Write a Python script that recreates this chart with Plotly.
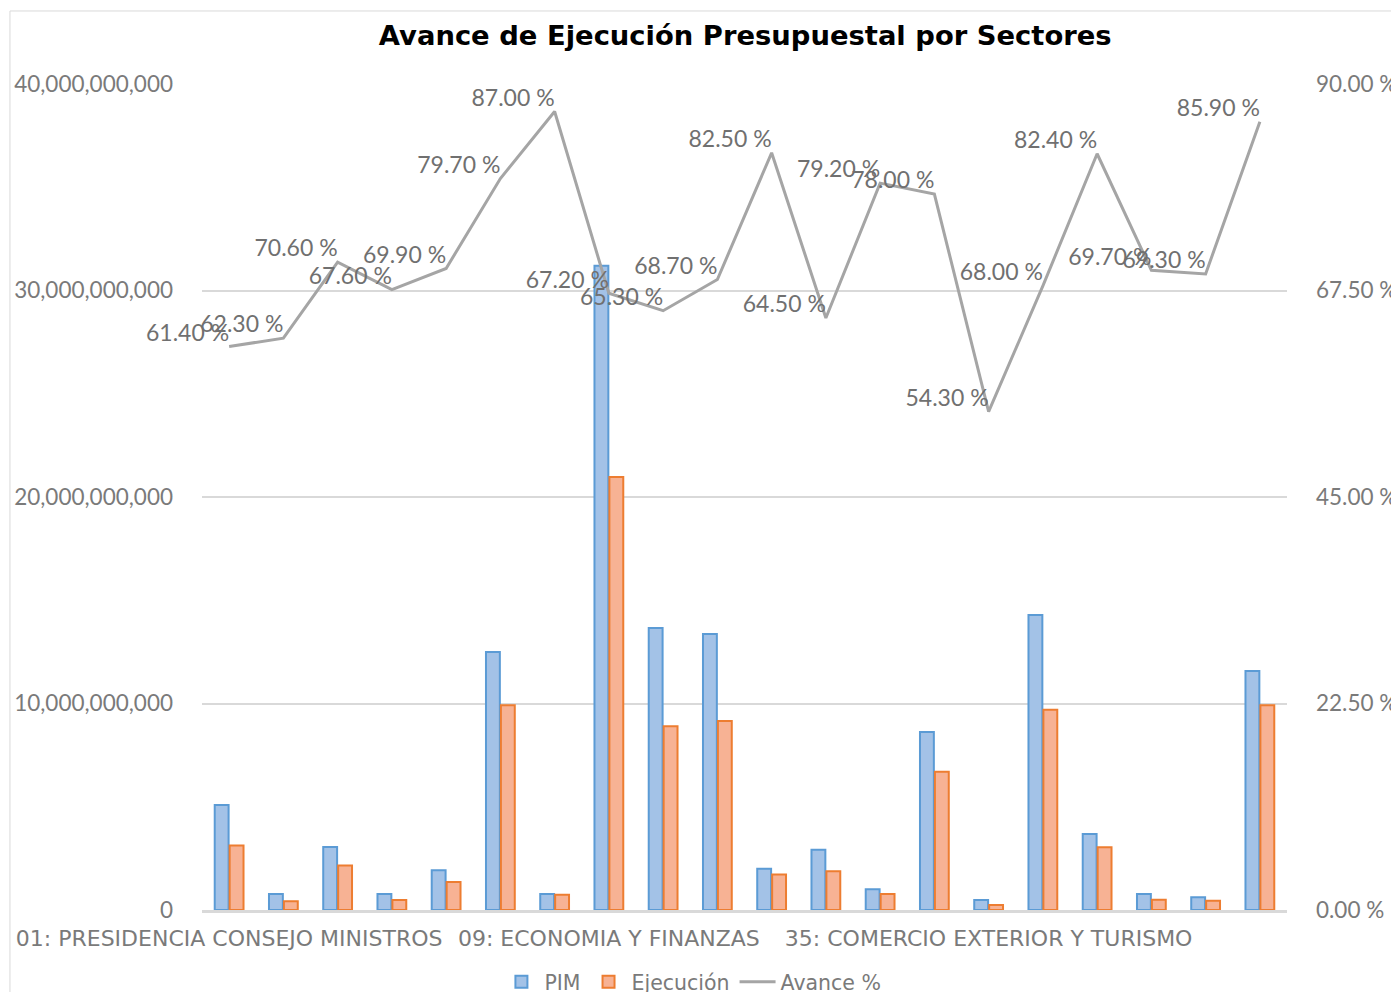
import plotly.graph_objects as go

categorias = [
    "01: PRESIDENCIA CONSEJO MINISTROS", "03: CULTURA", "04: PODER JUDICIAL",
    "05: AMBIENTAL", "06: JUSTICIA", "07: INTERIOR", "08: RELACIONES EXTERIORES",
    "09: ECONOMIA Y FINANZAS", "10: EDUCACION", "11: SALUD",
    "12: TRABAJO Y PROMOCION DEL EMPLEO", "13: AGRICULTURA", "16: ENERGIA Y MINAS",
    "26: DEFENSA", "35: COMERCIO EXTERIOR Y TURISMO", "36: TRANSPORTES Y COMUNICACIONES",
    "37: VIVIENDA CONSTRUCCION Y SANEAMIENTO", "38: PRODUCCION",
    "39: MUJER Y POBLACIONES VULNERABLES", "40: DESARROLLO E INCLUSION SOCIAL",
]
pim = [5.08e9, 0.78e9, 3.05e9, 0.78e9, 1.92e9, 12.5e9, 0.78e9, 31.2e9, 13.66e9, 13.37e9,
       2.0e9, 2.92e9, 1.0e9, 8.62e9, 0.48e9, 14.29e9, 3.68e9, 0.78e9, 0.62e9, 11.57e9]
ejecucion = [3.12e9, 0.42e9, 2.15e9, 0.48e9, 1.36e9, 9.92e9, 0.74e9, 20.97e9, 8.9e9, 9.15e9,
             1.72e9, 1.88e9, 0.78e9, 6.7e9, 0.24e9, 9.7e9, 3.04e9, 0.5e9, 0.45e9, 9.92e9]
avance = [61.4, 62.3, 70.6, 67.6, 69.9, 79.7, 87.0, 67.2, 65.3, 68.7,
          82.5, 64.5, 79.2, 78.0, 54.3, 68.0, 82.4, 69.7, 69.3, 85.9]
etiquetas_x = [categorias[0], categorias[7], categorias[14]]
ticks_izq = [0, 10e9, 20e9, 30e9, 40e9]
ticks_der = [0, 22.5, 45, 67.5, 90]

num_font = "Lato"
gray = "#7a7a7a"

fig = go.Figure()
fig.add_trace(go.Bar(
    name="PIM", x=categorias, y=pim,
    marker=dict(color="#a3c2e7", line=dict(color="#5b9bd5", width=2)),
))
fig.add_trace(go.Bar(
    name="Ejecución", x=categorias, y=ejecucion,
    marker=dict(color="#f7b294", line=dict(color="#ed7d31", width=2)),
))
fig.add_trace(go.Scatter(
    name="Avance %", x=categorias, y=avance, yaxis="y2",
    mode="lines+text", line=dict(color="#a5a5a5", width=3),
    text=[f"{v:.2f} %" for v in avance], textposition="top left",
    textfont=dict(family=num_font, size=23, color="#707070"),
    cliponaxis=False,
))

fig.update_layout(
    width=1391, height=984,
    paper_bgcolor="white", plot_bgcolor="white",
    margin=dict(l=194, r=112, t=76, b=82, autoexpand=False),
    barmode="group", bargap=0.45, bargroupgap=0.07,
    title=dict(text="<b>Avance de Ejecución Presupuestal por Sectores</b>",
               x=0.53, xanchor="center", y=0.9726, yanchor="middle",
               font=dict(family="DejaVu Sans", size=27.4, color="black")),
    xaxis=dict(
        type="category", range=[-0.5, len(categorias) - 0.5],
        tickmode="array", tickvals=etiquetas_x, ticktext=etiquetas_x,
        tickangle=0,
        showgrid=False, showline=True, linecolor="#d9d9d9", linewidth=3,
        ticks="", tickfont=dict(family="DejaVu Sans", size=22, color=gray),
        ticklabelstandoff=7, automargin=False,
    ),
    yaxis=dict(
        range=[0, 40e9], tickvals=ticks_izq, tickformat=",d",
        showgrid=True, gridcolor="#d9d9d9", gridwidth=2, zeroline=False,
        tickfont=dict(family=num_font, size=22.5, color=gray), ticklabelstandoff=28,
        automargin=False,
    ),
    yaxis2=dict(
        range=[0, 90], tickmode="array", tickvals=ticks_der,
        ticktext=[f"{v:.2f} %" for v in ticks_der],
        overlaying="y", side="right", showgrid=False, zeroline=False,
        tickfont=dict(family=num_font, size=22.5, color=gray), ticklabelstandoff=28,
        automargin=False,
    ),
    legend=dict(orientation="h", xanchor="center", x=0.452, yanchor="middle", y=-0.087,
                font=dict(family="DejaVu Sans", size=20.5, color=gray),
                itemwidth=36, traceorder="normal"),
    shapes=[dict(type="rect", xref="paper", yref="paper",
                 x0=-0.177, x1=1.1005, y0=-0.2, y1=1.0884,
                 line=dict(color="#d9d9d9", width=1), layer="below")],
)

fig.write_html("out.html")
